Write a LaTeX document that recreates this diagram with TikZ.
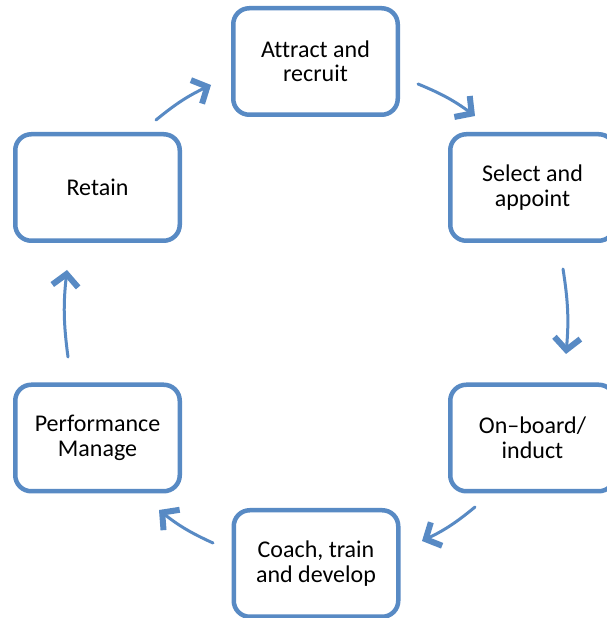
\documentclass[tikz,border=0pt]{standalone}
\usepackage{fontspec}
\setmainfont{Carlito}[Ligatures=CommonOff]
\usetikzlibrary{arrows.meta}
\definecolor{cycleblue}{RGB}{88,138,196}
\tikzset{stagebox/.style={draw=cycleblue, line width=4.5pt,
        rounded corners=16pt, fill=white, align=center,
        minimum width=164.5pt, minimum height=106.5pt,
        font=\fontsize{24}{24.5}\selectfont},
    flow/.style={draw=cycleblue, line width=3pt, line cap=round,
        -{Straight Barb[length=12pt,width=26pt,line width=6pt]},
        bend left=7},
    }
\begin{document}
\begin{tikzpicture}[x=1pt,y=1pt]
	\clip (0,0) rectangle (607,618);
	\fill[white] (0,0) rectangle (607,618);
	% stages of the cycle
	\node[stagebox] (attract) at (315.5,556.5) {Attract and\\recruit};
	\node[stagebox] (select) at (532.5,430.5) {Select and\\appoint};
	\node[stagebox] (onboard) at (532.5,180) {On--board/\\induct};
	\node[stagebox] (coach) at (316,54.5) {Coach, train\\and develop};
	\node[stagebox] (perform) at (97.5,180) {Performance\\Manage};
	\node[stagebox] (retain) at (97.5,430.5) {Retain};
	% free arrow ends
	\coordinate (retainout) at (156,498);
	\coordinate (attractin) at (211,533);
	\coordinate (attractout) at (418,534);
	\coordinate (selectin) at (475,502);
	\coordinate (selectout) at (563,349);
	\coordinate (onboardin) at (566,264);
	\coordinate (onboardout) at (475,111);
	\coordinate (coachin) at (422,77);
	\coordinate (coachout) at (213,75);
	\coordinate (performin) at (159,108);
	\coordinate (performout) at (68,261);
	\coordinate (retainin) at (67,348);
	% arrows
	\draw[flow] (retainout) to (attractin);
	\draw[flow] (attractout) to (selectin);
	\draw[flow] (selectout) to (onboardin);
	\draw[flow] (onboardout) to (coachin);
	\draw[flow] (coachout) to (performin);
	\draw[flow] (performout) to (retainin);
\end{tikzpicture}
\end{document}
